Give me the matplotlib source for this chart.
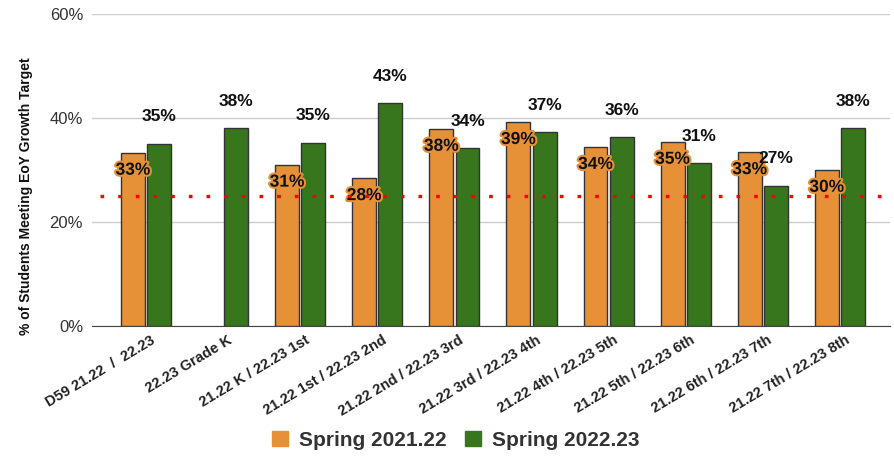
import numpy as np
import matplotlib.pyplot as plt
import matplotlib.patheffects as pe
from matplotlib.patches import Patch

plt.rcParams["font.family"] = ["Liberation Sans", "DejaVu Sans"]

# Data
categories = ["D59 21.22  /  22.23", "22.23 Grade K", "21.22 K / 22.23 1st",
              "21.22 1st / 22.23 2nd", "21.22 2nd / 22.23 3rd", "21.22 3rd / 22.23 4th",
              "21.22 4th / 22.23 5th", "21.22 5th / 22.23 6th", "21.22 6th / 22.23 7th",
              "21.22 7th / 22.23 8th"]
spring_2122 = [33.3, None, 31.0, 28.4, 37.9, 39.2, 34.4, 35.4, 33.4, 30.0]
spring_2223 = [35.1, 38.1, 35.3, 42.9, 34.2, 37.3, 36.3, 31.3, 27.0, 38.1]
target = 25

orange = "#E69138"
green = "#38761D"

fig = plt.figure(figsize=(8.94, 4.58), dpi=100)
ax = fig.add_axes([0.103, 0.288, 0.8925, 0.681])

x = np.arange(len(categories))
w = 0.31
gap = 0.015

for i in x:
    v = spring_2122[i]
    if v is not None:
        ax.bar(i - w / 2 - gap, v, w, color=orange, edgecolor="#333333", linewidth=1, zorder=3)
        ax.text(i - w / 2 - gap, v - 3.3, f"{round(v)}%", ha="center", va="center",
                fontsize=12.5, fontweight="bold", color="#111111", zorder=5,
                path_effects=[pe.withStroke(linewidth=3, foreground=orange)])
    g = spring_2223[i]
    ax.bar(i + w / 2 + gap, g, w, color=green, edgecolor="#333333", linewidth=1, zorder=3)
    ax.text(i + w / 2 + gap, g + 5.2, f"{round(g)}%", ha="center", va="center",
            fontsize=12.5, fontweight="bold", color="#111111", zorder=5)

ax.axhline(target, xmin=0.01, xmax=1, color="red", linewidth=2.4,
           linestyle=(0, (1.1, 4.2)), zorder=6)

ax.set_xlim(-0.7, 9.65)
ax.set_ylim(0, 60)
ax.set_yticks([0, 20, 40, 60])
ax.set_yticklabels(["0%", "20%", "40%", "60%"], fontsize=12, color="#333333")
ax.yaxis.grid(True, color="#cccccc", linewidth=1, zorder=0)
ax.set_axisbelow(True)
for s in ["top", "right", "left"]:
    ax.spines[s].set_visible(False)
ax.spines["bottom"].set_color("#444444")
ax.tick_params(axis="both", length=0)
ax.tick_params(axis="y", pad=6.5)

ax.set_xticks(x + 0.06)
ax.set_xticklabels(categories, rotation=31, ha="right", rotation_mode="anchor",
                   fontsize=10.5, fontweight="bold", color="#222222")
ax.tick_params(axis="x", pad=5)

ax.set_ylabel("% of Students Meeting EoY Growth Target", fontsize=10,
              fontweight="bold", color="#111111")
ax.yaxis.set_label_coords(-0.074, 0.417)

handles = [Patch(color=orange, label="Spring 2021.22"),
           Patch(color=green, label="Spring 2022.23")]
fig.legend(handles=handles, loc="center", bbox_to_anchor=(0.51, 0.038), ncol=2,
           frameon=False, prop={"size": 15, "weight": "bold"},
           handlelength=0.75, handleheight=0.75, columnspacing=0.9, handletextpad=0.55,
           labelcolor="#333333")

fig.savefig("out.png", dpi=100)
